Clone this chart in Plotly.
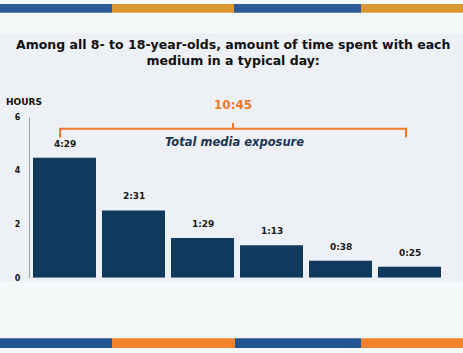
import plotly.graph_objects as go

W, H = 463, 353

categories = ["Medium 1", "Medium 2", "Medium 3", "Medium 4", "Medium 5", "Medium 6"]
hours = [4 + 29/60, 2 + 31/60, 1 + 29/60, 1 + 13/60, 38/60, 25/60]
labels = ["4:29", "2:31", "1:29", "1:13", "0:38", "0:25"]
total_label = "10:45"
ytick_vals = [0, 2, 4, 6]

BAR = "#0F3A5D"
ORANGE = "#EC7A2E"
NAVY_TXT = "#1B3557"

def px(x):
    return x / W

def py(y):
    return 1 - y / H

fig = go.Figure()
fig.add_trace(go.Bar(
    x=categories, y=hours, marker=dict(color=BAR, line=dict(width=0)),
    hoverinfo="skip", cliponaxis=False,
))

annotations = []
for c, v, t in zip(categories, hours, labels):
    annotations.append(dict(x=c, y=v, xref="x", yref="y", text=f"<b>{t}</b>",
                            showarrow=False, yshift=14, xanchor="center", yanchor="middle",
                            font=dict(family="DejaVu Sans", size=9, color="#1a1a1a")))

annotations += [
    dict(x=px(233), y=py(49.5), xref="paper", yref="paper", xanchor="center", yanchor="middle",
         text="<b>Among all 8- to 18-year-olds, amount of time spent with each<br>medium in a typical day:</b>",
         showarrow=False, align="center",
         font=dict(family="DejaVu Sans", size=12.5, color="#111111")),
    dict(x=px(4), y=py(101), xref="paper", yref="paper", xanchor="left", yanchor="middle",
         text="<b>HOURS</b>", showarrow=False,
         font=dict(family="DejaVu Sans", size=9, color="#111111")),
    dict(x=px(233), y=py(104), xref="paper", yref="paper", xanchor="center", yanchor="middle",
         text=f"<b>{total_label}</b>", showarrow=False,
         font=dict(family="DejaVu Sans", size=12, color=ORANGE)),
    dict(x=px(234), y=py(142), xref="paper", yref="paper", xanchor="center", yanchor="middle",
         text="<b><i>Total media exposure</i></b>", showarrow=False,
         font=dict(family="DejaVu Sans", size=11.5, color=NAVY_TXT)),
]

shapes = [
    dict(type="rect", xref="paper", yref="paper", x0=0, x1=1, y0=py(285), y1=py(30),
         fillcolor="#EDF0F4", line=dict(width=0), layer="below"),
    dict(type="rect", xref="paper", yref="paper", x0=0, x1=px(112), y0=py(9), y1=1,
         fillcolor="#2B5C98", line=dict(width=0)),
    dict(type="rect", xref="paper", yref="paper", x0=px(112), x1=px(234), y0=py(9), y1=1,
         fillcolor="#DC9732", line=dict(width=0)),
    dict(type="rect", xref="paper", yref="paper", x0=px(234), x1=px(361), y0=py(9), y1=1,
         fillcolor="#2B5C98", line=dict(width=0)),
    dict(type="rect", xref="paper", yref="paper", x0=px(361), x1=1, y0=py(9), y1=1,
         fillcolor="#DC9732", line=dict(width=0)),
    dict(type="rect", xref="paper", yref="paper", x0=0, x1=px(112), y0=0, y1=py(343),
         fillcolor="#22558F", line=dict(width=0)),
    dict(type="rect", xref="paper", yref="paper", x0=px(112), x1=px(235), y0=0, y1=py(343),
         fillcolor="#F3822C", line=dict(width=0)),
    dict(type="rect", xref="paper", yref="paper", x0=px(235), x1=px(361), y0=0, y1=py(343),
         fillcolor="#22558F", line=dict(width=0)),
    dict(type="rect", xref="paper", yref="paper", x0=px(361), x1=1, y0=0, y1=py(343),
         fillcolor="#F3822C", line=dict(width=0)),
    dict(type="path", xref="paper", yref="paper",
         path=f"M {px(60)},{py(137)} L {px(60)},{py(128)} L {px(406)},{py(128)} L {px(406)},{py(137)}",
         line=dict(color=ORANGE, width=2)),
    dict(type="line", xref="paper", yref="paper", x0=px(233), x1=px(233), y0=py(128), y1=py(122),
         line=dict(color=ORANGE, width=2)),
]

fig.update_layout(
    width=W, height=H,
    margin=dict(l=0, r=0, t=0, b=0),
    paper_bgcolor="#F4F8F9", plot_bgcolor="rgba(0,0,0,0)",
    showlegend=False, bargap=0.087,
    annotations=annotations, shapes=shapes,
    xaxis=dict(domain=[px(30), px(444)], range=[-0.5, 5.5], showticklabels=False,
               showgrid=False, zeroline=False, showline=False, fixedrange=True),
    yaxis=dict(domain=[py(281), py(116)], range=[0, 6], tickvals=ytick_vals,
               tickfont=dict(family="DejaVu Sans", size=8, color="#111111", weight="bold"),
               ticks="outside", ticklen=7, tickcolor="rgba(0,0,0,0)",
               showgrid=False, zeroline=False, showline=True, linecolor="#9AA0A6",
               linewidth=1, fixedrange=True),
)

fig.write_html("out.html")
